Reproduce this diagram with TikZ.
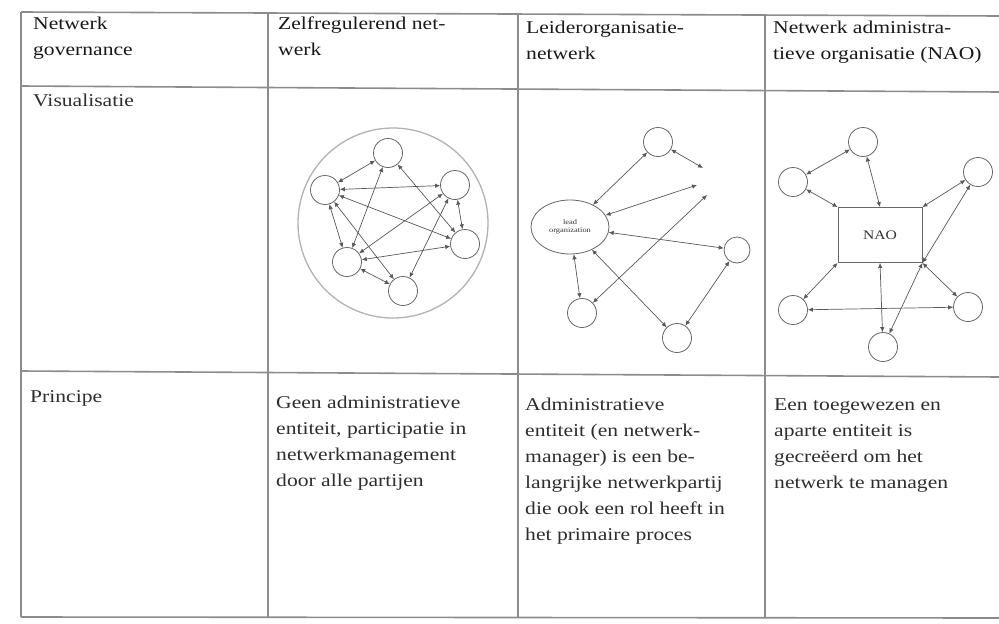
\documentclass[tikz,border=0pt]{standalone}
\usepackage{fontspec}
\setmainfont{Liberation Serif}[FakeStretch=1.2]
\usetikzlibrary{arrows.meta,shapes.geometric}
\begin{document}
\begin{tikzpicture}[x=1pt,y=-1pt,
  rule/.style={draw=black!45, line width=1.6pt},
  celltext/.style={anchor=north west, inner sep=0pt, align=left, text=black!82, font=\fontsize{18}{26}\selectfont},
  headtext/.style={celltext, text=black!90},
  nd/.style={circle, draw=black!60, line width=0.8pt, minimum size=29pt, inner sep=0pt},
  link/.style={draw=black!65, line width=0.7pt, {Latex[length=5pt,width=4.5pt]}-{Latex[length=5pt,width=4.5pt]}},
]
\useasboundingbox (0,0) rectangle (999,624);
\fill[white] (0,0) rectangle (999,624);

% table rules
\draw[rule] (21,12) -- (999,16);
\draw[rule] (21,86) -- (999,92);
\draw[rule] (21,371) -- (999,377);
\draw[rule] (21,617) -- (999,618);
\draw[rule] (21,12) -- (21,617);
\draw[rule] (268,13) -- (268,617);
\draw[rule] (518,14) -- (518,618);
\draw[rule] (765,15) -- (765,618);

% texts
\node[headtext] (h1) at (33,17) {Netwerk\\governance};
\node[headtext] (h2) at (278,17) {Zelfregulerend net-\\werk};
\node[headtext] (h3) at (526,21) {Leiderorganisatie-\\netwerk};
\node[headtext] (h4) at (773,21) {Netwerk administra-\\tieve organisatie (NAO)};
\node[celltext] (v1) at (33,94) {Visualisatie};
\node[celltext] (p1) at (30,390) {Principe};
\node[celltext] (p2) at (276,396) {Geen administratieve\\entiteit, participatie in\\netwerkmanagement\\door alle partijen};
\node[celltext] (p3) at (525,398) {Administratieve\\entiteit (en netwerk-\\manager) is een be-\\langrijke netwerkpartij\\die ook een rol heeft in\\het primaire proces};
\node[celltext] (p4) at (774,399) {Een toegewezen en\\aparte entiteit is\\gecreëerd om het\\netwerk te managen};

% diagram 1: self-governed network
\node[draw=black!30, line width=1.3pt, circle, minimum size=190pt, inner sep=0pt] (ring) at (393,223) {};
\node[nd] (a1) at (388,153) {};
\node[nd] (a2) at (325,190) {};
\node[nd] (a3) at (455,185) {};
\node[nd] (a4) at (465,244) {};
\node[nd] (a5) at (347,262) {};
\node[nd] (a6) at (403,291) {};
\draw[link] (a1) -- (a2);
\draw[link] (a1) -- (a5);
\draw[link] (a1) -- (a4);
\draw[link] (a2) -- (a3);
\draw[link] (a2) -- (a4);
\draw[link] (a2) -- (a5);
\draw[link] (a2) -- (a6);
\draw[link] (a3) -- (a5);
\draw[link] (a3) -- (a6);
\draw[link] (a3) -- (a4);
\draw[link] (a4) -- (a5);
\draw[link] (a5) -- (a6);

% diagram 2: lead organization network
\node[ellipse, draw=black!60, line width=0.8pt, minimum width=78pt, minimum height=54pt, inner sep=0pt, align=center, text=black!80, font=\fontsize{7}{8}\selectfont] (lead) at (570,227) {lead\\organization};
\node[nd] (b1) at (658,142) {};
\node[nd, minimum size=26pt] (b2) at (737,250) {};
\node[nd] (b3) at (582,313) {};
\node[nd] (b4) at (677,338) {};
\coordinate (f1) at (703,168);
\coordinate (f2) at (697,185);
\coordinate (f3) at (707,195);
\draw[link] (lead) -- (b1);
\draw[link] (lead) -- (f2);
\draw[link] (b1) -- (f1);
\draw[link] (b3) -- (f3);
\draw[link] (lead) -- (b2);
\draw[link] (lead) -- (b4);
\draw[link] (lead) -- (b3);
\draw[link] (b2) -- (b4);

% diagram 3: NAO
\node[draw=black!60, line width=0.9pt, minimum width=84pt, minimum height=55pt, text=black!80, font=\fontsize{13}{14}\selectfont] (nao) at (880,235) {NAO};
\node[nd] (c1) at (863,142) {};
\node[nd] (c2) at (793,182) {};
\node[nd] (c3) at (978,172) {};
\node[nd] (c4) at (793,310) {};
\node[nd] (c5) at (968,307) {};
\node[nd] (c6) at (883,347) {};
\draw[link] (c1) -- (c2);
\draw[link] (c2) -- (nao.north west);
\draw[link] (c1) -- (nao.north);
\draw[link] (c3) -- (nao.north east);
\draw[link] (c3) -- (nao.south east);
\draw[link] (nao.south east) -- (c6);
\draw[link] (nao.south east) -- (c5);
\draw[link] (nao.south west) -- (c4);
\draw[link] (nao.south) -- (c6);
\draw[link] (c4) -- (c5);
\end{tikzpicture}
\end{document}
